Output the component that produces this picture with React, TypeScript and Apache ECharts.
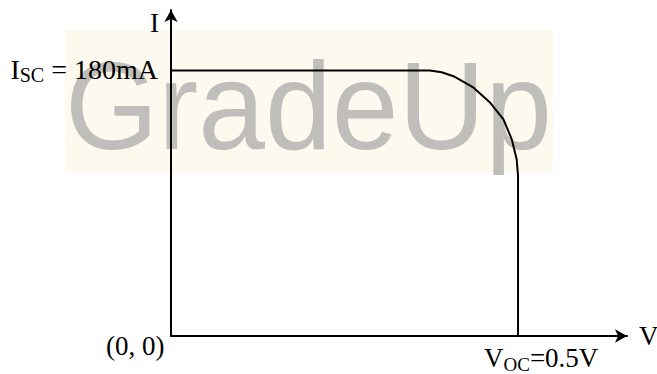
import React, { useEffect, useRef } from "react";
import * as echarts from "echarts";

// I–V curve of a solar cell (V in volts, I in mA)
const voltage = [0, 0.373, 0.39, 0.407, 0.436, 0.46, 0.479, 0.491, 0.498, 0.5, 0.5];
const current = [180, 180, 178.8, 176.1, 168.3, 158.1, 146.8, 133.3, 119.8, 108.5, 0];
const xMax = 0.657;
const yMax = 221;
const iscLabel = ["I", "SC", " = 180mA"];
const vocLabel = ["V", "OC", "=0.5V"];
const originLabel = "(0, 0)";
const xName = "V";
const yName = "I";
const watermark = "GradeUp";

const SERIF = "'Liberation Serif', 'Times New Roman', serif";
const SANS = "'Liberation Sans', Arial, sans-serif";

export default function App() {
  const ref = useRef<HTMLDivElement>(null);
  useEffect(() => {
    if (!ref.current) return;
    const chart = echarts.init(ref.current, undefined, { renderer: "svg" });
    const data = voltage.map((v, i) => [v, current[i]]);
    const axisLine = {
      show: true,
      symbol: ["none", "arrow"],
      symbolSize: [10, 12],
      lineStyle: { color: "#000", width: 2 },
    };
    const richOf = (m: number, s: number) => ({
      m: { fontFamily: SERIF, fontSize: m, color: "#000", verticalAlign: "bottom" },
      s: { fontFamily: SERIF, fontSize: s, color: "#000", verticalAlign: "bottom", padding: [0, 0, -2, 0] },
    });
    chart.setOption({
      animation: false,
      backgroundColor: "#fff",
      grid: { left: 171, right: 30, top: 10, bottom: 38 },
      xAxis: {
        type: "value",
        min: 0,
        max: xMax,
        axisLine,
        axisTick: { show: false },
        axisLabel: { show: false },
        splitLine: { show: false },
      },
      yAxis: {
        type: "value",
        min: 0,
        max: yMax,
        axisLine,
        axisTick: { show: false },
        axisLabel: { show: false },
        splitLine: { show: false },
      },
      graphic: [
        {
          type: "rect",
          z: -10,
          shape: { x: 65, y: 30, width: 488, height: 143 },
          style: { fill: "#FDF9EF" },
          silent: true,
        },
        {
          type: "text",
          z: -9,
          x: 65,
          y: 106,
          scaleX: 0.968,
          style: {
            text: watermark,
            fontFamily: SANS,
            fontSize: 124,
            fill: "#BFBEBA",
            align: "left",
            verticalAlign: "middle",
          },
          silent: true,
        },
        {
          type: "text",
          x: 150,
          y: 23,
          style: { text: yName, fontFamily: SERIF, fontSize: 27, fill: "#000", align: "left", verticalAlign: "middle" },
        },
        {
          type: "text",
          x: 639,
          y: 336,
          style: { text: xName, fontFamily: SERIF, fontSize: 27, fill: "#000", align: "left", verticalAlign: "middle" },
        },
        {
          type: "text",
          x: 106,
          y: 346,
          style: { text: originLabel, fontFamily: SERIF, fontSize: 27, fill: "#000", align: "left", verticalAlign: "middle" },
        },
        {
          type: "text",
          x: 158,
          y: 69,
          style: {
            text: `{m|${iscLabel[0]}}{s|${iscLabel[1]}}{m|${iscLabel[2]}}`,
            rich: richOf(28, 20),
            align: "right",
            verticalAlign: "middle",
          },
        },
        {
          type: "text",
          x: 484,
          y: 358,
          style: {
            text: `{m|${vocLabel[0]}}{s|${vocLabel[1]}}{m|${vocLabel[2]}}`,
            rich: richOf(27, 19),
            align: "left",
            verticalAlign: "middle",
          },
        },
      ],
      series: [
        {
          type: "line",
          data,
          showSymbol: false,
          symbol: "none",
          lineStyle: { color: "#000", width: 2 },
          z: 3,
        },
      ],
    });
    return () => chart.dispose();
  }, []);
  return (
    <div
      ref={ref}
      style={{ position: "fixed", left: 0, top: 0, width: 657, height: 374 }}
    />
  );
}
